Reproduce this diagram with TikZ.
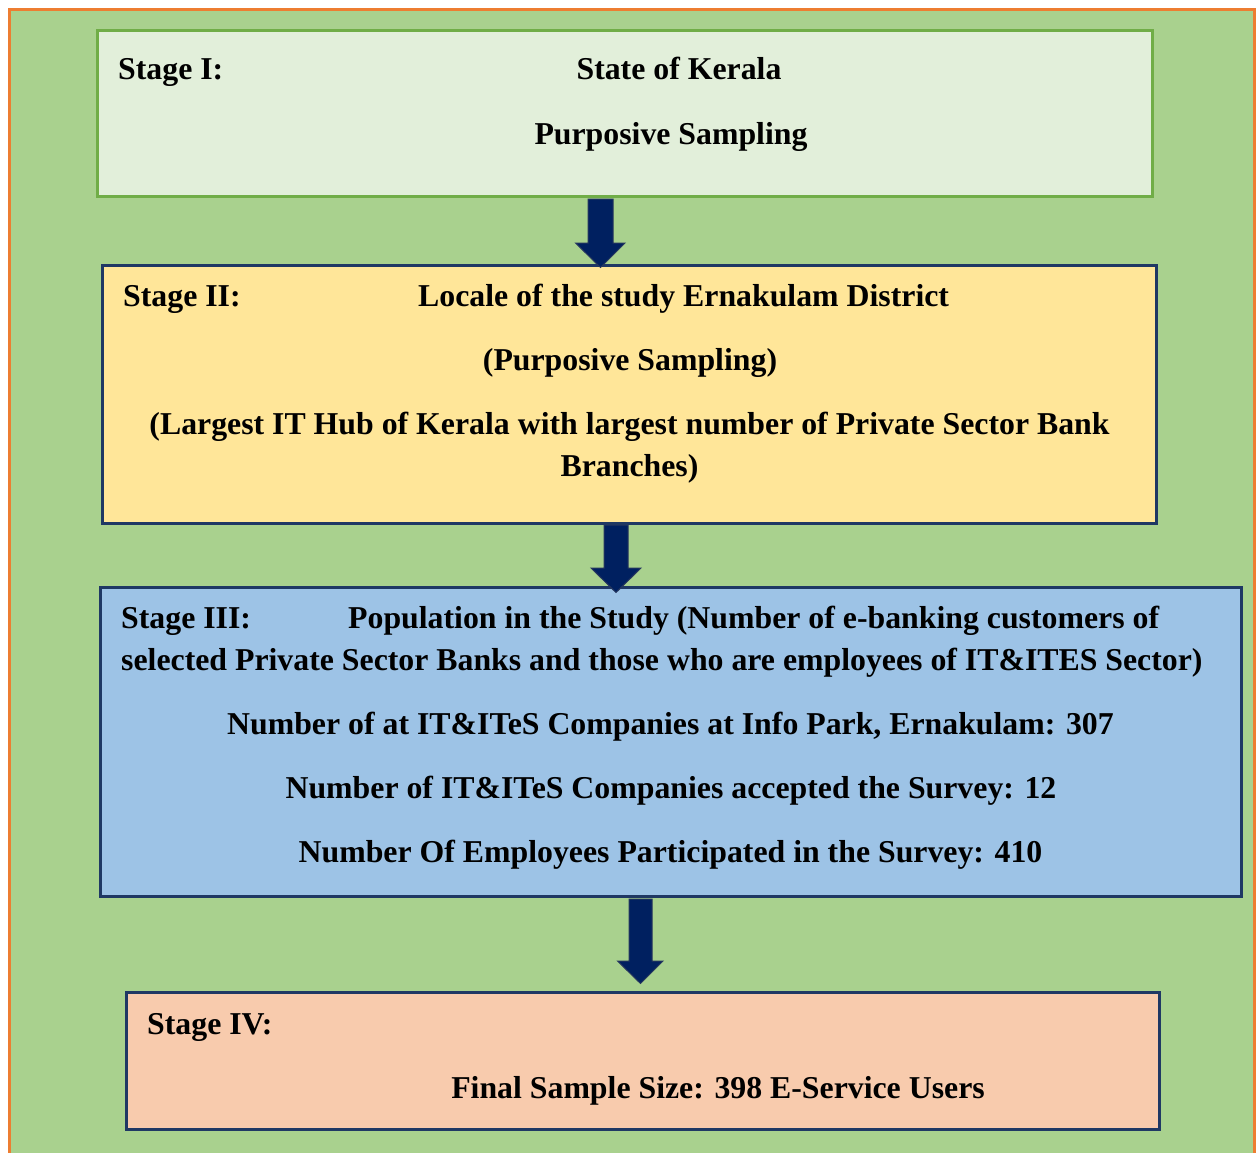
\documentclass[tikz,border=0pt]{standalone}
\usepackage{fontspec}
\setmainfont{Liberation Serif}
\usetikzlibrary{calc}
\definecolor{bggreen}{HTML}{A9D18E}
\definecolor{frameorange}{HTML}{ED7D31}
\definecolor{boxone}{HTML}{E2EFDA}
\definecolor{boxoneline}{HTML}{70AD47}
\definecolor{boxtwo}{HTML}{FFE699}
\definecolor{boxthree}{HTML}{9DC3E6}
\definecolor{boxfour}{HTML}{F8CBAD}
\definecolor{navyline}{HTML}{1F3864}
\definecolor{arrowfill}{HTML}{002060}
\definecolor{arrowline}{HTML}{26365E}
\tikzset{
  stagebox/.style={draw=navyline, line width=3pt, rectangle, anchor=north west, inner sep=0pt, outer sep=0pt},
  lbl/.style={font=\bfseries\fontsize{31.8}{38}\selectfont, inner sep=0pt, text=black},
  blockarrow/.style={fill=arrowfill, draw=arrowline, line width=1pt, line join=miter}
}
\begin{document}
\begin{tikzpicture}[x=1pt,y=-1pt]
\useasboundingbox (0,0) rectangle (1256,1153);
\fill[white] (0,0) rectangle (1256,1153);
\begin{scope}
\clip (0,0) rectangle (1256,1153);
\draw[frameorange, fill=bggreen, line width=3pt] (9,10) rectangle (1254,1170);
\end{scope}

% boxes
\node[stagebox, draw=boxoneline, fill=boxone, minimum width=1055pt, minimum height=166pt] (b1) at (97.5,30.5) {};
\node[stagebox, fill=boxtwo, minimum width=1054pt, minimum height=258pt] (b2) at (102.5,265.5) {};
\node[stagebox, fill=boxthree, minimum width=1141pt, minimum height=309pt] (b3) at (100.5,587.5) {};
\node[stagebox, fill=boxfour, minimum width=1033pt, minimum height=137pt] (b4) at (126.5,992.5) {};

% arrows
\coordinate (a1) at (600.5,199);
\coordinate (a2) at (616,525);
\coordinate (a3) at (640.5,899);
\draw[blockarrow] ($(a1)+(-12.5,0)$) -- ++(25,0) -- ++(0,44) -- ++(12,0)
  -- ($(a1 |- b2.north)+(0,2)$) -- ($(a1)+(-25,44)$) -- ($(a1)+(-12.5,44)$) -- cycle;
\draw[blockarrow] ($(a2)+(-12,0)$) -- ++(24,0) -- ++(0,43) -- ++(13,0)
  -- ($(a2 |- b3.north)+(0,5)$) -- ($(a2)+(-25,43)$) -- ($(a2)+(-12,43)$) -- cycle;
\draw[blockarrow] ($(a3)+(-11.5,0)$) -- ++(23,0) -- ++(0,62) -- ++(11,0)
  -- ($(a3 |- b4.north)+(0,-9)$) -- ($(a3)+(-23,62)$) -- ($(a3)+(-11.5,62)$) -- cycle;

% stage I
\node[lbl, anchor=base west] (s1) at (118,80) {Stage I:};
\node[lbl, anchor=base] (t11) at (679,80) {State of Kerala};
\node[lbl, anchor=base] (t12) at (671,145) {Purposive Sampling};

% stage II
\node[lbl, anchor=base west] (s2) at (123,306) {Stage II:};
\node[lbl, anchor=base west] (t21) at (418,306) {Locale of the study Ernakulam District};
\node[lbl, anchor=base] (t22) at (630,370) {(Purposive Sampling)};
\node[lbl, anchor=base] (t23) at (629.5,434) {(Largest IT Hub of Kerala with largest number of Private Sector Bank};
\node[lbl, anchor=base] (t24) at (629.5,476) {Branches)};

% stage III
\node[lbl, anchor=base west] (s3) at (121,628) {Stage III:};
\node[lbl, anchor=base west] (t31) at (348,628) {Population in the Study (Number of e-banking customers of};
\node[lbl, anchor=base west] (t32) at (121,670) {selected Private Sector Banks and those who are employees of IT\&ITES Sector)};
\node[lbl, anchor=base] (t33) at (670.5,734) {Number of at IT\&ITeS Companies at Info Park, Ernakulam: 307};
\node[lbl, anchor=base] (t34) at (671,798) {Number of IT\&ITeS Companies accepted the Survey: 12};
\node[lbl, anchor=base] (t35) at (670.5,862) {Number Of Employees Participated in the Survey: 410};

% stage IV
\node[lbl, anchor=base west] (s4) at (147,1034) {Stage IV:};
\node[lbl, anchor=base] (t41) at (718,1098) {Final Sample Size: 398 E-Service Users};
\end{tikzpicture}
\end{document}
